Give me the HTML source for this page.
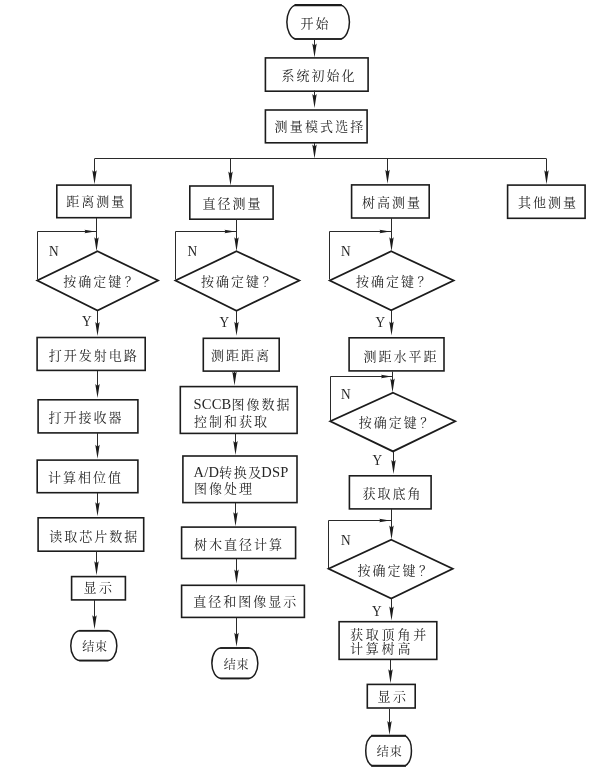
<!DOCTYPE html>
<html lang="zh-CN">
<head>
<meta charset="utf-8">
<title>测量流程图</title>
<style>
html,body{margin:0;padding:0;background:#fff;}
body{width:600px;height:772px;overflow:hidden;}
svg{display:block;will-change:transform;}
.s{fill:#fff;stroke:#1c1c1c;stroke-width:1.6;}
.d{stroke-linejoin:miter;stroke-width:1.8;}
.m{stroke-width:1.8;}
.l{fill:none;stroke:#2a2a2a;stroke-width:1.0;}
.a{fill:#1c1c1c;stroke:none;}
.t{font-family:"Liberation Serif","Noto Serif CJK SC",serif;font-size:13px;font-weight:400;letter-spacing:2.0px;fill:#262626;}
.n{font-size:14.5px;letter-spacing:0;}
.e{font-size:14.5px;letter-spacing:0.2px;}
</style>
</head>
<body>
<svg width="600" height="772" viewBox="0 0 600 772">
<path d="M295.35,5.10 L340.95,5.10 A10.26,17.23 0 0 1 340.95,39.05 L295.35,39.05 A10.26,17.23 0 0 1 295.35,5.10 Z" class="s" style="stroke-width:1.5"/>
<line x1="294.55" y1="5.10" x2="341.75" y2="5.10" class="s" style="stroke-width:2.2"/>
<line x1="294.55" y1="39.05" x2="341.75" y2="39.05" class="s" style="stroke-width:1.5"/>
<polyline points="314.50,39.00 314.50,53.50" class="l"/>
<polygon points="314.50,57.50 312.30,43.50 314.50,45.50 316.70,43.50" class="a"/>
<rect x="265.40" y="57.90" width="102.70" height="33.30" class="s"/>
<polyline points="314.50,90.50 314.50,104.00" class="l"/>
<polygon points="314.50,108.00 312.30,94.00 314.50,96.00 316.70,94.00" class="a"/>
<rect x="265.40" y="110.00" width="101.70" height="32.80" class="s"/>
<polyline points="314.50,143.00 314.50,154.50" class="l"/>
<polygon points="314.50,158.50 312.30,144.50 314.50,146.50 316.70,144.50" class="a"/>
<polyline points="94.50,158.50 546.50,158.50" class="l"/>
<polyline points="94.50,158.75 94.50,180.20" class="l"/>
<polygon points="94.50,184.20 92.30,170.20 94.50,172.20 96.70,170.20" class="a"/>
<polyline points="230.50,158.75 230.50,181.50" class="l"/>
<polygon points="230.50,185.50 228.30,171.50 230.50,173.50 232.70,171.50" class="a"/>
<polyline points="387.50,158.75 387.50,179.80" class="l"/>
<polygon points="387.50,183.80 385.30,169.80 387.50,171.80 389.70,169.80" class="a"/>
<polyline points="546.50,158.75 546.50,180.20" class="l"/>
<polygon points="546.50,184.20 544.30,170.20 546.50,172.20 548.70,170.20" class="a"/>
<rect x="56.80" y="185.10" width="74.15" height="32.60" class="s"/>
<rect x="189.80" y="186.00" width="83.30" height="33.20" class="s"/>
<rect x="351.60" y="184.90" width="77.60" height="33.10" class="s"/>
<rect x="507.60" y="185.10" width="77.50" height="33.20" class="s"/>
<polyline points="96.50,218.00 96.50,247.20" class="l"/>
<polygon points="96.50,251.20 94.30,237.20 96.50,239.20 98.70,237.20" class="a"/>
<polyline points="37.50,279.50 37.50,231.50 96.50,231.50" class="l"/>
<polygon points="95.00,231.50 84.50,229.80 85.70,231.50 84.50,233.20" class="a"/>
<polygon points="97.50,251.30 158.00,280.50 97.50,310.50 37.30,280.50" class="s d"/>
<polyline points="97.50,311.00 97.50,332.00" class="l"/>
<polygon points="97.50,336.00 95.30,322.00 97.50,324.00 99.70,322.00" class="a"/>
<rect x="37.10" y="337.50" width="108.10" height="32.90" class="s"/>
<polyline points="97.50,371.00 97.50,394.00" class="l"/>
<polygon points="97.50,398.00 95.30,384.00 97.50,386.00 99.70,384.00" class="a"/>
<rect x="38.10" y="399.80" width="99.80" height="33.10" class="s"/>
<polyline points="97.50,433.00 97.50,454.80" class="l"/>
<polygon points="97.50,458.80 95.30,444.80 97.50,446.80 99.70,444.80" class="a"/>
<rect x="37.20" y="460.10" width="100.70" height="32.60" class="s"/>
<polyline points="97.50,493.00 97.50,512.20" class="l"/>
<polygon points="97.50,516.20 95.30,502.20 97.50,504.20 99.70,502.20" class="a"/>
<rect x="38.10" y="517.80" width="105.60" height="33.40" class="s"/>
<polyline points="96.50,551.50 96.50,571.30" class="l"/>
<polygon points="96.50,575.30 94.30,561.30 96.50,563.30 98.70,561.30" class="a"/>
<rect x="71.60" y="576.60" width="53.80" height="23.30" class="s"/>
<polyline points="94.50,600.00 94.50,625.30" class="l"/>
<polygon points="94.50,629.30 92.30,615.30 94.50,617.30 96.70,615.30" class="a"/>
<path d="M79.95,630.70 L107.65,630.70 A9.20,14.95 0 0 1 107.65,660.60 L79.95,660.60 A9.20,14.95 0 0 1 79.95,630.70 Z" class="s" style="stroke-width:1.5"/>
<line x1="79.15" y1="630.70" x2="108.45" y2="630.70" class="s" style="stroke-width:1.6"/>
<line x1="79.15" y1="660.60" x2="108.45" y2="660.60" class="s" style="stroke-width:1.6"/>
<polyline points="236.50,219.50 236.50,247.20" class="l"/>
<polygon points="236.50,251.20 234.30,237.20 236.50,239.20 238.70,237.20" class="a"/>
<polyline points="175.50,279.50 175.50,231.50 236.50,231.50" class="l"/>
<polygon points="235.00,231.50 224.50,229.80 225.70,231.50 224.50,233.20" class="a"/>
<polygon points="236.50,251.30 299.30,280.50 236.50,310.70 175.50,280.50" class="s d"/>
<polyline points="236.50,311.00 236.50,331.80" class="l"/>
<polygon points="236.50,335.80 234.30,321.80 236.50,323.80 238.70,321.80" class="a"/>
<rect x="203.30" y="338.30" width="75.90" height="32.80" class="s"/>
<polyline points="234.50,371.50 234.50,381.50" class="l"/>
<polygon points="234.50,385.50 232.30,371.50 234.50,373.50 236.70,371.50" class="a"/>
<rect x="180.30" y="386.60" width="116.80" height="46.80" class="s"/>
<polyline points="235.50,434.00 235.50,451.00" class="l"/>
<polygon points="235.50,455.00 233.30,441.00 235.50,443.00 237.70,441.00" class="a"/>
<rect x="182.90" y="456.00" width="114.10" height="46.60" class="s"/>
<polyline points="235.50,503.00 235.50,522.30" class="l"/>
<polygon points="235.50,526.30 233.30,512.30 235.50,514.30 237.70,512.30" class="a"/>
<rect x="181.60" y="527.10" width="114.00" height="31.40" class="s"/>
<polyline points="236.50,559.00 236.50,579.60" class="l"/>
<polygon points="236.50,583.60 234.30,569.60 236.50,571.60 238.70,569.60" class="a"/>
<rect x="181.60" y="585.30" width="122.80" height="32.10" class="s"/>
<polyline points="236.50,618.00 236.50,642.80" class="l"/>
<polygon points="236.50,646.80 234.30,632.80 236.50,634.80 238.70,632.80" class="a"/>
<path d="M221.05,648.00 L248.65,648.00 A9.20,15.20 0 0 1 248.65,678.40 L221.05,678.40 A9.20,15.20 0 0 1 221.05,648.00 Z" class="s" style="stroke-width:1.5"/>
<line x1="220.25" y1="648.00" x2="249.45" y2="648.00" class="s" style="stroke-width:1.6"/>
<line x1="220.25" y1="678.40" x2="249.45" y2="678.40" class="s" style="stroke-width:1.6"/>
<polyline points="391.50,218.00 391.50,247.20" class="l"/>
<polygon points="391.50,251.20 389.30,237.20 391.50,239.20 393.70,237.20" class="a"/>
<polyline points="329.50,279.50 329.50,231.50 391.50,231.50" class="l"/>
<polygon points="390.00,231.50 379.50,229.80 380.70,231.50 379.50,233.20" class="a"/>
<polygon points="391.20,251.30 453.60,280.50 391.20,310.30 329.80,280.50" class="s d"/>
<polyline points="391.50,311.00 391.50,331.60" class="l"/>
<polygon points="391.50,335.60 389.30,321.60 391.50,323.60 393.70,321.60" class="a"/>
<rect x="349.10" y="337.80" width="94.90" height="33.10" class="s"/>
<polyline points="392.50,371.50 392.50,388.50" class="l"/>
<polygon points="392.50,392.50 390.30,378.50 392.50,380.50 394.70,378.50" class="a"/>
<polyline points="330.50,420.50 330.50,376.50 393.00,376.50" class="l"/>
<polygon points="391.50,376.50 381.00,374.80 382.20,376.50 381.00,378.20" class="a"/>
<polygon points="393.00,392.70 455.20,421.25 393.00,451.40 330.30,421.25" class="s d"/>
<polyline points="393.50,452.00 393.50,470.00" class="l"/>
<polygon points="393.50,474.00 391.30,460.00 393.50,462.00 395.70,460.00" class="a"/>
<rect x="349.40" y="475.80" width="81.70" height="33.10" class="s"/>
<polyline points="391.50,508.50 391.50,535.50" class="l"/>
<polygon points="391.50,539.50 389.30,525.50 391.50,527.50 393.70,525.50" class="a"/>
<polyline points="328.50,568.00 328.50,520.50 391.25,520.50" class="l"/>
<polygon points="389.75,520.50 379.25,518.80 380.45,520.50 379.25,522.20" class="a"/>
<polygon points="391.25,539.70 452.70,568.75 391.25,598.50 328.60,568.75" class="s d"/>
<polyline points="391.50,599.00 391.50,616.50" class="l"/>
<polygon points="391.50,620.50 389.30,606.50 391.50,608.50 393.70,606.50" class="a"/>
<rect x="339.10" y="621.70" width="97.70" height="37.70" class="s"/>
<polyline points="390.50,660.00 390.50,679.30" class="l"/>
<polygon points="390.50,683.30 388.30,669.30 390.50,671.30 392.70,669.30" class="a"/>
<rect x="367.30" y="684.40" width="47.90" height="23.60" class="s"/>
<polyline points="389.50,709.00 389.50,731.00" class="l"/>
<polygon points="389.50,735.00 387.30,721.00 389.50,723.00 391.70,721.00" class="a"/>
<path d="M372.05,735.70 L405.15,735.70 A9.43,15.95 0 0 1 405.15,765.80 L372.05,765.80 A9.43,15.95 0 0 1 372.05,735.70 Z" class="s" style="stroke-width:1.5"/>
<line x1="371.25" y1="735.70" x2="405.95" y2="735.70" class="s" style="stroke-width:2.0"/>
<line x1="371.25" y1="765.80" x2="405.95" y2="765.80" class="s" style="stroke-width:2.0"/>
<text x="300.60" y="27.50" class="t" style="letter-spacing:2px">开始</text>
<text x="281.50" y="80.00" class="t">系统初始化</text>
<text x="274.60" y="131.00" class="t" style="letter-spacing:2.15px">测量模式选择</text>
<text x="66.30" y="206.30" class="t">距离测量</text>
<text x="202.50" y="207.50" class="t">直径测量</text>
<text x="362.00" y="207.00" class="t">树高测量</text>
<text x="518.00" y="207.00" class="t">其他测量</text>
<text x="63.20" y="286.00" class="t">按确定键<tspan dx="1.5">？</tspan></text>
<text x="201.00" y="286.00" class="t">按确定键<tspan dx="1.5">？</tspan></text>
<text x="356.00" y="286.00" class="t">按确定键<tspan dx="1.5">？</tspan></text>
<text x="48.70" y="360.20" class="t">打开发射电路</text>
<text x="48.50" y="422.00" class="t">打开接收器</text>
<text x="48.00" y="482.00" class="t">计算相位值</text>
<text x="49.20" y="540.60" class="t">读取芯片数据</text>
<text x="83.50" y="592.30" class="t" style="letter-spacing:2.6px">显示</text>
<text x="82.30" y="650.60" class="t" style="letter-spacing:0.6px;font-size:12px">结束</text>
<text x="211.00" y="360.20" class="t">测距距离</text>
<text x="193.50" y="409.00" class="t"><tspan class="e">SCCB</tspan>图像数据</text>
<text x="194.00" y="426.00" class="t">控制和获取</text>
<text x="193.50" y="476.50" class="t" style="letter-spacing:1.6px"><tspan class="e">A/D</tspan>转换<tspan style="letter-spacing:0">及</tspan><tspan class="e">DSP</tspan></text>
<text x="194.00" y="492.50" class="t">图像处理</text>
<text x="194.00" y="548.70" class="t">树木直径计算</text>
<text x="193.20" y="605.80" class="t">直径和图像显示</text>
<text x="223.80" y="668.60" class="t" style="letter-spacing:0.6px;font-size:12px">结束</text>
<text x="363.50" y="360.80" class="t">测距水平距</text>
<text x="358.80" y="427.00" class="t">按确定键<tspan dx="1.5">？</tspan></text>
<text x="362.50" y="498.00" class="t">获取底角</text>
<text x="357.50" y="574.50" class="t">按确定键<tspan dx="1.5">？</tspan></text>
<text x="350.00" y="639.00" class="t" style="letter-spacing:2.8px">获取顶角并</text>
<text x="350.00" y="653.30" class="t" style="letter-spacing:2.8px">计算树高</text>
<text x="377.50" y="700.80" class="t" style="letter-spacing:2.6px">显示</text>
<text x="376.80" y="756.30" class="t" style="letter-spacing:1.0px;font-size:12px">结束</text>
<text transform="translate(49.00,256.00) scale(0.92,1)" class="t n">N</text>
<text transform="translate(187.50,256.00) scale(0.92,1)" class="t n">N</text>
<text transform="translate(341.00,256.00) scale(0.92,1)" class="t n">N</text>
<text transform="translate(341.00,399.00) scale(0.92,1)" class="t n">N</text>
<text transform="translate(341.00,545.00) scale(0.92,1)" class="t n">N</text>
<text transform="translate(82.00,326.00) scale(0.92,1)" class="t n">Y</text>
<text transform="translate(219.50,326.80) scale(0.92,1)" class="t n">Y</text>
<text transform="translate(375.40,326.70) scale(0.92,1)" class="t n">Y</text>
<text transform="translate(372.50,465.00) scale(0.92,1)" class="t n">Y</text>
<text transform="translate(372.00,616.00) scale(0.92,1)" class="t n">Y</text>
</svg>
</body>
</html>
